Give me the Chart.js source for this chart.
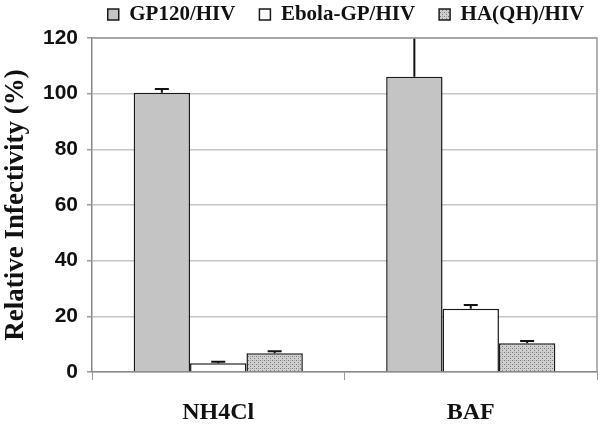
<!DOCTYPE html>
<html>
<head>
  <meta charset="utf-8">
  <title>Relative Infectivity</title>
  <script src="https://cdn.jsdelivr.net/npm/chart.js"></script>
  <style>
    html, body { margin: 0; padding: 0; background: #fff; }
    #wrap { width: 600px; height: 425px; }
  </style>
</head>
<body>
  <div id="wrap"><canvas id="myChart" width="600" height="425"></canvas></div>
  <script>
    // data
    const categories = ['NH4Cl', 'BAF'];
    const seriesNames = ['GP120/HIV', 'Ebola-GP/HIV', 'HA(QH)/HIV'];
    const gp120 = [100.3, 106.1];
    const ebola = [3.1, 22.7];
    const haqh = [6.7, 10.3];
    const gp120Err = [1.4, 18];
    const ebolaErr = [0.6, 1.4];
    const haqhErr = [0.8, 0.8];
    const yTicks = [0, 20, 40, 60, 80, 100, 120];

    // dotted fill for the HA(QH) bars
    function makeDots() {
      const c = document.createElement('canvas');
      c.width = 4; c.height = 4;
      const g = c.getContext('2d');
      g.fillStyle = '#cfcfcf';
      g.fillRect(0, 0, 4, 4);
      g.fillStyle = '#7a7a7a';
      g.fillRect(0, 0, 1, 1);
      g.fillRect(2, 2, 1, 1);
      g.fillStyle = '#a5a5a5';
      g.fillRect(2, 0, 1, 1);
      return g.createPattern(c, 'repeat');
    }

    // upward error bars with caps
    const errorBars = {
      id: 'errorBars',
      afterDatasetsDraw(chart) {
        const ctx = chart.ctx;
        const area = chart.chartArea;
        const y = chart.scales.y;
        ctx.save();
        ctx.beginPath();
        ctx.rect(area.left, area.top, area.right - area.left, area.bottom - area.top);
        ctx.clip();
        ctx.strokeStyle = '#111';
        ctx.lineWidth = 2;
        chart.data.datasets.forEach((ds, i) => {
          const meta = chart.getDatasetMeta(i);
          meta.data.forEach((bar, j) => {
            const v = ds.data[j];
            const top = y.getPixelForValue(v + ds.errors[j]);
            ctx.beginPath();
            ctx.moveTo(bar.x, bar.y);
            ctx.lineTo(bar.x, top);
            ctx.moveTo(bar.x - 7, top);
            ctx.lineTo(bar.x + 7, top);
            ctx.stroke();
          });
        });
        ctx.restore();
      }
    };

    // top and right frame lines, legend moved over the plot area
    const frame = {
      id: 'frame',
      afterLayout(chart) {
        const a = chart.chartArea;
        const shift = (a.left + a.right) / 2 - chart.width / 2 + 3;
        chart.legend.left += shift;
        chart.legend.right += shift;
        chart.legend.top -= 20;
      },
      afterDatasetsDraw(chart) {
        const ctx = chart.ctx;
        const a = chart.chartArea;
        ctx.save();
        ctx.strokeStyle = '#999';
        ctx.lineWidth = 1.5;
        ctx.beginPath();
        ctx.moveTo(a.left, a.top);
        ctx.lineTo(a.right, a.top);
        ctx.lineTo(a.right, a.bottom);
        ctx.stroke();
        ctx.restore();
      }
    };

    const serif = "'Liberation Serif', 'DejaVu Serif', serif";
    const sans = "'Liberation Sans', Arial, sans-serif";

    const ctx = document.getElementById('myChart').getContext('2d');
    new Chart(ctx, {
      type: 'bar',
      data: {
        labels: categories,
        datasets: [{
          label: seriesNames[0],
          data: gp120,
          errors: gp120Err,
          backgroundColor: '#c4c4c4',
          borderColor: '#1a1a1a',
          borderWidth: 1.5
        }, {
          label: seriesNames[1],
          data: ebola,
          errors: ebolaErr,
          backgroundColor: '#ffffff',
          borderColor: '#1a1a1a',
          borderWidth: 1.5
        }, {
          label: seriesNames[2],
          data: haqh,
          errors: haqhErr,
          backgroundColor: makeDots(),
          borderColor: '#1a1a1a',
          borderWidth: 1.5
        }]
      },
      options: {
        responsive: false,
        animation: false,
        layout: { padding: { left: 0, right: 3, top: 0, bottom: 0 } },
        categoryPercentage: 0.67,
        barPercentage: 1.0,
        plugins: {
          tooltip: { enabled: false },
          legend: {
            position: 'top',
            maxHeight: 38,
            labels: {
              boxWidth: 11,
              boxHeight: 11,
              padding: 24,
              color: '#111',
              font: { family: serif, size: 21, weight: 'bold' }
            }
          }
        },
        scales: {
          x: {
            grid: {
              offset: true,
              drawOnChartArea: false,
              tickLength: 8,
              color: '#999'
            },
            border: { color: '#888', width: 1.5 },
            ticks: {
              color: '#111',
              padding: 18,
              font: { family: serif, size: 24, weight: 'bold' }
            },
            afterFit(scale) { scale.height = 53; }
          },
          y: {
            min: 0,
            max: 120,
            afterBuildTicks(scale) {
              scale.ticks = yTicks.map(v => ({ value: v }));
            },
            grid: {
              color: '#c6c6c6',
              lineWidth: 1.5,
              tickLength: 5,
              tickColor: '#999'
            },
            border: { color: '#888', width: 1.5 },
            ticks: {
              color: '#111',
              padding: 9,
              font: { family: sans, size: 21, weight: 'bold' }
            },
            title: {
              display: true,
              text: 'Relative Infectivity (%)',
              color: '#111',
              padding: { top: 0, bottom: 0 },
              font: { family: serif, size: 27, weight: 'bold' }
            },
            afterFit(scale) { scale.width = 92; }
          }
        }
      },
      plugins: [errorBars, frame]
    });
  </script>
</body>
</html>
